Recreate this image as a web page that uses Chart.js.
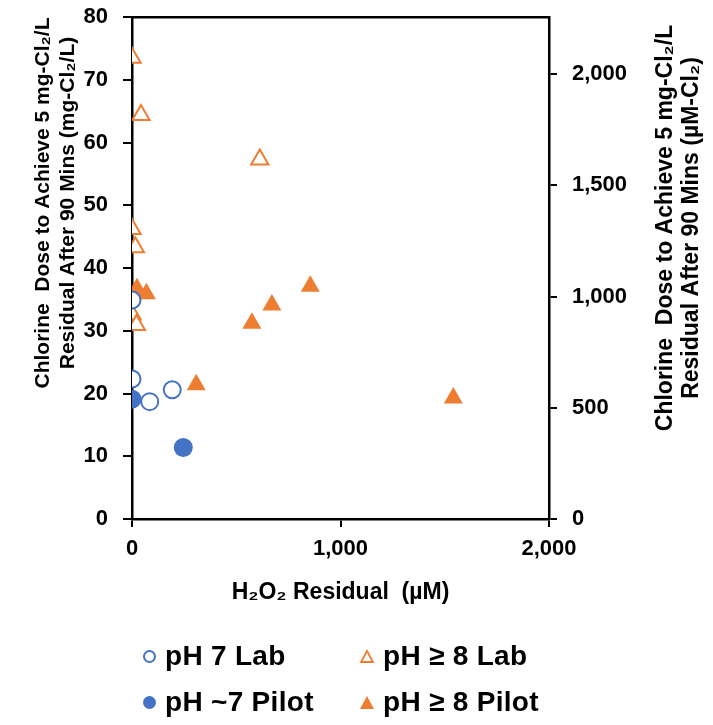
<!DOCTYPE html>
<html>
<head>
<meta charset="utf-8">
<script src="https://cdn.jsdelivr.net/npm/chart.js@4.4.1/dist/chart.umd.min.js"></script>
<style>
  html, body { margin: 0; padding: 0; background: #fff; }
  #wrap { position: relative; width: 713px; height: 725px; }
  .item {
    position: absolute;
    display: flex;
    align-items: center;
    height: 32px;
    font: bold 28px "Liberation Sans", Arial, sans-serif;
    letter-spacing: 0.3px;
    color: #000;
    white-space: nowrap;
  }
  .item svg { margin-right: 8px; }
</style>
</head>
<body>
<div id="wrap">
  <canvas id="chart" width="713" height="725"></canvas>
  <div class="item" style="left:142px; top:640px;">
    <svg width="15" height="15"><circle cx="7.5" cy="7.5" r="5.5" fill="#fff" stroke="#4472C4" stroke-width="2"/></svg>pH 7 Lab
  </div>
  <div class="item" style="left:359px; top:640px;">
    <svg width="16" height="15"><polygon points="8,2 14,13 2,13" fill="#fff" stroke="#ED7D31" stroke-width="1.8"/></svg>pH ≥ 8 Lab
  </div>
  <div class="item" style="left:142px; top:686px;">
    <svg width="15" height="15"><circle cx="7.5" cy="7.5" r="6.5" fill="#4472C4"/></svg>pH ~7 Pilot
  </div>
  <div class="item" style="left:359px; top:686px;">
    <svg width="16" height="15"><polygon points="8,1 15,14 1,14" fill="#ED7D31"/></svg>pH ≥ 8 Pilot
  </div>
</div>
<script>
// H2O2 residual (uM) and chlorine dose (mg-Cl2/L)
const lab7X = [0, 0, 85, 193];
const lab7Y = [34.9, 22.3, 18.7, 20.6];
const pilot7X = [0, 246];
const pilot7Y = [19.1, 11.4];
const lab8X = [0, 43, 613, 0, 16, 0, 21];
const lab8Y = [73.5, 64.4, 57.3, 46.2, 43.3, 32.6, 30.9];
const pilot8X = [24, 69, 308, 575, 671, 855, 1541];
const pilot8Y = [36.7, 35.9, 21.4, 31.2, 34.1, 37.1, 19.3];

const xRange = [0, 2000];
const yRange = [0, 80];
const rightTicks = [0, 500, 1000, 1500, 2000];
// mg-Cl2/L -> uM-Cl2 (divided by 35.45 g/mol, as on the right axis)
const uMPerMg = 1000 / 35.45;

const leftTitle = ['Chlorine  Dose to Achieve 5 mg-Cl\u2082/L', 'Residual After 90 Mins (mg-Cl\u2082/L)'];
const rightTitle = ['Chlorine  Dose to Achieve 5 mg-Cl\u2082/L', 'Residual After 90 Mins (\u00b5M-Cl\u2082)'];

const BLUE = '#4472C4';
const ORANGE = '#ED7D31';
const FONT = '"Liberation Sans", Arial, sans-serif';

const pts = (xs, ys) => xs.map((x, i) => ({ x, y: ys[i] }));

function fixSize(w, h) {
  return (scale) => {
    if (w != null) scale.width = w;
    if (h != null) scale.height = h;
    scale.paddingTop = 0;
    scale.paddingBottom = 0;
    scale.paddingLeft = 0;
    scale.paddingRight = 0;
  };
}

// y titles drawn by hand so the right one reads bottom-to-top like the left one
const yTitles = {
  id: 'yTitles',
  afterDraw(chart) {
    const ctx = chart.ctx;
    ctx.save();
    ctx.fillStyle = '#000';
    ctx.textAlign = 'center';
    ctx.textBaseline = 'middle';
    const drawLines = (lines, x0, cy, size, gap) => {
      ctx.font = 'bold ' + size + 'px ' + FONT;
      lines.forEach((t, i) => {
        ctx.save();
        ctx.translate(x0 + i * gap, cy);
        ctx.rotate(-Math.PI / 2);
        ctx.fillText(t, 0, 0);
        ctx.restore();
      });
    };
    drawLines(leftTitle, 43, 203, 21, 25);
    drawLines(rightTitle, 666, 228, 23, 26);
    ctx.restore();
  }
};

const tickFont = { family: FONT, size: 22, weight: 'bold' };

new Chart(document.getElementById('chart'), {
  type: 'scatter',
  data: {
    datasets: [
      {
        label: 'pH ~7 Pilot',
        data: pts(pilot7X, pilot7Y),
        pointStyle: 'circle',
        pointRadius: 9.5,
        backgroundColor: BLUE,
        borderColor: BLUE,
        borderWidth: 0
      },
      {
        label: 'pH 7 Lab',
        data: pts(lab7X, lab7Y),
        pointStyle: 'circle',
        pointRadius: 8.5,
        backgroundColor: '#fff',
        borderColor: BLUE,
        borderWidth: 2
      },
      {
        label: 'pH \u2265 8 Pilot',
        data: pts(pilot8X, pilot8Y),
        pointStyle: 'triangle',
        pointRadius: 11,
        backgroundColor: ORANGE,
        borderColor: ORANGE,
        borderWidth: 0
      },
      {
        label: 'pH \u2265 8 Lab',
        data: pts(lab8X, lab8Y),
        pointStyle: 'triangle',
        pointRadius: 10,
        backgroundColor: '#fff',
        borderColor: ORANGE,
        borderWidth: 2
      }
    ]
  },
  options: {
    responsive: false,
    animation: false,
    devicePixelRatio: 1,
    layout: { padding: { left: 0, right: 0, top: 17, bottom: 119 } },
    plugins: {
      legend: { display: false },
      tooltip: { enabled: false }
    },
    scales: {
      x: {
        type: 'linear',
        position: 'bottom',
        min: xRange[0],
        max: xRange[1],
        afterFit: fixSize(null, 87),
        ticks: { stepSize: 1000, font: tickFont, color: '#000', padding: 9 },
        grid: { drawOnChartArea: false, drawTicks: true, tickLength: 8, color: '#000', lineWidth: 2 },
        border: { color: '#000', width: 2.5 },
        title: {
          display: true,
          text: 'H\u2082O\u2082 Residual  (\u00b5M)',
          font: { family: FONT, size: 23, weight: 'bold' },
          color: '#000',
          padding: 0
        }
      },
      xTop: {
        type: 'linear',
        position: 'top',
        min: xRange[0],
        max: xRange[1],
        afterFit: fixSize(null, 0),
        ticks: { display: false },
        grid: { display: false },
        border: { color: '#000', width: 2.5 }
      },
      y: {
        type: 'linear',
        position: 'left',
        min: yRange[0],
        max: yRange[1],
        afterFit: fixSize(132, null),
        ticks: { stepSize: 10, font: tickFont, color: '#000', padding: 15 },
        grid: { drawOnChartArea: false, drawTicks: true, tickLength: 9, color: '#000', lineWidth: 2 },
        border: { color: '#000', width: 2.5 }
      },
      y2: {
        type: 'linear',
        position: 'right',
        min: yRange[0] * uMPerMg,
        max: yRange[1] * uMPerMg,
        afterFit: fixSize(164, null),
        afterBuildTicks: (scale) => {
          scale.ticks = rightTicks.map(v => ({ value: v }));
        },
        ticks: { font: tickFont, color: '#000', padding: 15 },
        grid: { drawOnChartArea: false, drawTicks: true, tickLength: 8, color: '#000', lineWidth: 2 },
        border: { color: '#000', width: 2.5 }
      }
    }
  },
  plugins: [yTitles]
});
</script>
</body>
</html>
